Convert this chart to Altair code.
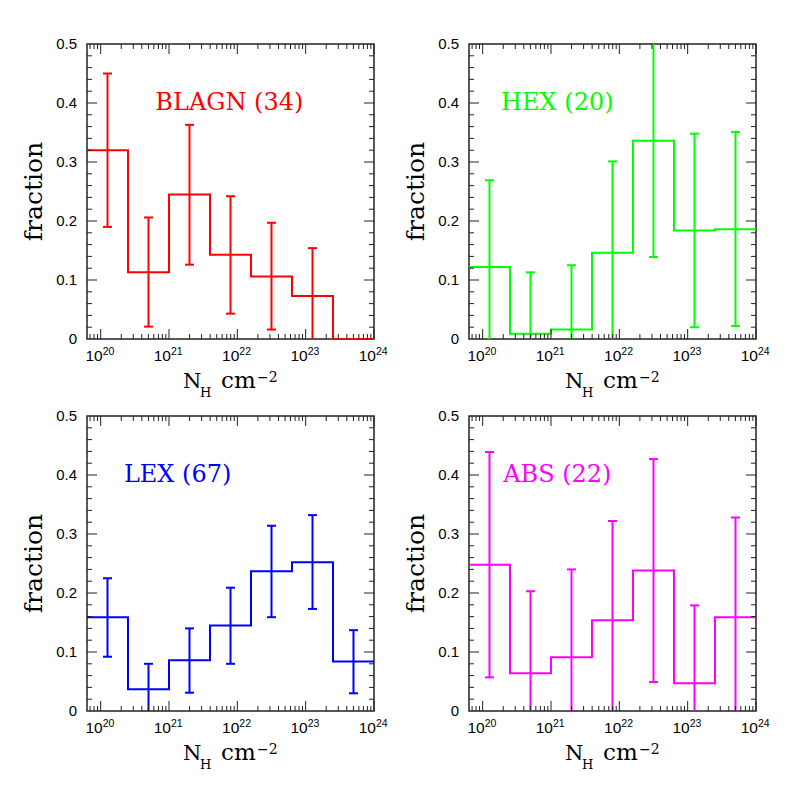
import altair as alt
import pandas as pd

# ---------------- data ----------------
BIN_EDGES_LOG = [19.8, 20.4, 21.0, 21.6, 22.2, 22.8, 23.4, 24.0]
BIN_CENTRES_LOG = [20.1, 20.7, 21.3, 21.9, 22.5, 23.1, 23.7]

BLAGN_FRAC = [0.320, 0.113, 0.245, 0.143, 0.106, 0.073, 0.0]
BLAGN_LO = [0.190, 0.021, 0.126, 0.043, 0.016, 0.0, None]
BLAGN_HI = [0.450, 0.206, 0.363, 0.242, 0.197, 0.154, None]

HEX_FRAC = [0.122, 0.009, 0.016, 0.146, 0.336, 0.184, 0.186]
HEX_LO = [0.0, 0.0, 0.0, 0.0, 0.139, 0.020, 0.022]
HEX_HI = [0.269, 0.113, 0.125, 0.301, 0.52, 0.348, 0.351]

LEX_FRAC = [0.159, 0.037, 0.086, 0.145, 0.237, 0.252, 0.084]
LEX_LO = [0.092, 0.0, 0.031, 0.080, 0.159, 0.173, 0.030]
LEX_HI = [0.225, 0.080, 0.140, 0.209, 0.314, 0.332, 0.137]

ABS_FRAC = [0.248, 0.064, 0.091, 0.154, 0.238, 0.047, 0.159]
ABS_LO = [0.057, 0.0, 0.0, 0.0, 0.049, 0.0, 0.0]
ABS_HI = [0.439, 0.203, 0.240, 0.322, 0.427, 0.179, 0.328]

PANEL_NAMES = ["BLAGN (34)", "HEX (20)", "LEX (67)", "ABS (22)"]

Y_TICK_VALUES = [0.0, 0.1, 0.2, 0.3, 0.4, 0.5]
Y_TICK_LABELS = ["0", "0.1", "0.2", "0.3", "0.4", "0.5"]
X_TICK_EXPONENTS = ["20", "21", "22", "23", "24"]

# ---------------- styling ----------------
W, H = 287, 295
FRAME = "#222222"
SERIF = "DejaVu Serif"
SANS = "Liberation Sans"
XMIN_LOG, XMAX_LOG = 19.8, 24.0

xscale = alt.Scale(type="log", domain=[10 ** XMIN_LOG, 10 ** XMAX_LOG], nice=False)
yscale = alt.Scale(domain=[0, 0.5], nice=False, zero=False)

# tick positions (guides)
x_major = [10.0 ** int(e) for e in X_TICK_EXPONENTS]
x_minor = [m * 10.0 ** k for k in range(19, 24) for m in range(2, 10)
           if 10 ** XMIN_LOG <= m * 10.0 ** k <= 10 ** XMAX_LOG]
y_major = [0.1, 0.2, 0.3, 0.4]
y_minor = [round(0.02 * i, 2) for i in range(1, 25) if i % 5 != 0]


def X(field):
    return alt.X(field, type="quantitative", scale=xscale, axis=None)


def Y(field):
    return alt.Y(field, type="quantitative", scale=yscale, axis=None)


def text_at(t, px, py, size, font=SERIF, align="left", baseline="alphabetic", angle=0):
    return alt.Chart(pd.DataFrame({"t": [t]})).mark_text(
        font=font, fontSize=size, align=align, baseline=baseline, angle=angle,
        color="black").encode(text="t:N", x=alt.value(px), y=alt.value(py))


def panel(name, frac, lo, hi, color, label_log):
    step_df = pd.DataFrame({"nh": [10 ** e for e in BIN_EDGES_LOG],
                            "frac": frac + [frac[-1]]})
    err_rows, cap_rows = [], []
    for c, l, h in zip(BIN_CENTRES_LOG, lo, hi):
        if l is None:
            continue
        err_rows.append({"nh": 10 ** c, "lo": l, "hi": h})
        if l > 0:
            cap_rows.append({"nh": 10 ** c, "y": l})
        if h < 0.5:
            cap_rows.append({"nh": 10 ** c, "y": h})
    err_df = pd.DataFrame(err_rows)
    cap_df = pd.DataFrame(cap_rows)

    step = alt.Chart(step_df).mark_line(
        interpolate="step-after", color=color, strokeWidth=2).encode(
        x=X("nh"), y=Y("frac"))
    err = alt.Chart(err_df).mark_rule(color=color, strokeWidth=2, clip=True).encode(
        x=X("nh"), y=Y("lo"), y2="hi:Q")
    caps = alt.Chart(cap_df).mark_tick(
        orient="horizontal", size=9, thickness=2, color=color, opacity=1, clip=True).encode(
        x=X("nh"), y=Y("y"))
    lab = alt.Chart(pd.DataFrame({"t": [name], "x": [10 ** label_log], "y": [0.388]})).mark_text(
        font=SERIF, fontSize=24, align="left", baseline="alphabetic", color=color).encode(
        text="t:N", x=X("x"), y=Y("y"))

    def xticks(vals, length):
        df = pd.DataFrame({"v": vals})
        bot = alt.Chart(df).mark_rule(color=FRAME, strokeWidth=1).encode(
            x=X("v"), y=alt.value(H), y2=alt.value(H - length))
        top = alt.Chart(df).mark_rule(color=FRAME, strokeWidth=1).encode(
            x=X("v"), y=alt.value(0), y2=alt.value(length))
        return [bot, top]

    def yticks(vals, length):
        df = pd.DataFrame({"v": vals})
        left = alt.Chart(df).mark_rule(color=FRAME, strokeWidth=1).encode(
            y=Y("v"), x=alt.value(0), x2=alt.value(length))
        right = alt.Chart(df).mark_rule(color=FRAME, strokeWidth=1).encode(
            y=Y("v"), x=alt.value(W), x2=alt.value(W - length))
        return [left, right]

    guides = xticks(x_major, 10) + xticks(x_minor, 5) + yticks(y_major, 10) + yticks(y_minor, 5)

    ylab = alt.Chart(pd.DataFrame({"v": Y_TICK_VALUES, "t": Y_TICK_LABELS})).mark_text(
        font=SANS, fontSize=15, align="right", baseline="middle", color="black").encode(
        y=Y("v"), x=alt.value(-10), text="t:N")
    xlab_base = alt.Chart(pd.DataFrame({"v": x_major, "t": ["10"] * len(x_major)})).mark_text(
        font=SANS, fontSize=15.5, align="right", baseline="alphabetic", dx=2, color="black").encode(
        x=X("v"), y=alt.value(H + 22), text="t:N")
    xlab_exp = alt.Chart(pd.DataFrame({"v": x_major, "t": X_TICK_EXPONENTS})).mark_text(
        font=SANS, fontSize=10.5, align="left", baseline="alphabetic", dx=2, color="black").encode(
        x=X("v"), y=alt.value(H + 16), text="t:N")

    titles = [
        text_at("N", 96, H + 49, 21),
        text_at("H", 113, H + 58, 13),
        text_at("cm", 134, H + 49, 23),
        text_at("\u22122", 170, H + 43, 14),
        text_at("fraction", -53, H / 2, 25, align="center", baseline="middle", angle=270),
    ]

    return alt.layer(step, err, caps, lab, *guides, ylab, xlab_base, xlab_exp, *titles).properties(
        width=W, height=H)


p1 = panel(PANEL_NAMES[0], BLAGN_FRAC, BLAGN_LO, BLAGN_HI, "#ff0000", 20.8)
p2 = panel(PANEL_NAMES[1], HEX_FRAC, HEX_LO, HEX_HI, "#00ff00", 20.27)
p3 = panel(PANEL_NAMES[2], LEX_FRAC, LEX_LO, LEX_HI, "#0000ff", 20.34)
p4 = panel(PANEL_NAMES[3], ABS_FRAC, ABS_LO, ABS_HI, "#ff00ff", 20.3)

chart = alt.concat(p1, p2, p3, p4, columns=2, spacing={"row": 77, "column": 95},
                   bounds="flush").properties(
    padding={"left": 13, "top": 28, "right": 5, "bottom": 5}
).configure_view(stroke=FRAME, strokeWidth=1.5)

chart.save("out.html", embed_options={"renderer": "svg", "actions": False})
